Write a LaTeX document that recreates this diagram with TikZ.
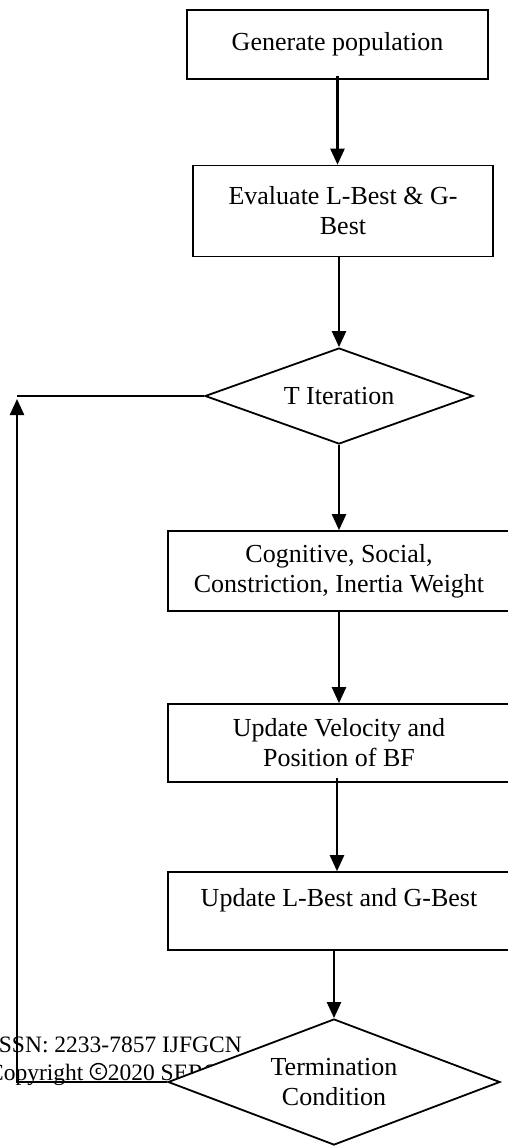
\documentclass[tikz,border=0pt]{standalone}
\usepackage{fontspec}
\setmainfont{Liberation Serif}
\usetikzlibrary{shapes.geometric,arrows.meta}
\begin{document}
\begin{tikzpicture}[x=1pt,y=-1pt,
  box/.style={draw,line width=1.6pt,rectangle,inner sep=0pt,align=center,
    font=\fontsize{26}{30}\selectfont},
  dia/.style={draw,line width=1.8pt,diamond,fill=white,inner sep=0pt,align=center,
    font=\fontsize{26}{30}\selectfont},
  conn/.style={line width=2.4pt,-{Triangle[width=14pt,length=16pt]}},
  plain/.style={line width=1.8pt},
  wm/.style={inner sep=0pt,font=\fontsize{23.5}{28}\selectfont},
  circmark/.style={circle,draw,line width=1.4pt,minimum size=16pt,inner sep=0pt,
    font=\sffamily\bfseries\fontsize{13}{13}\selectfont}]
\useasboundingbox (0,0) rectangle (508,1146);
\clip (0,0) rectangle (508,1146);
\fill[white] (0,0) rectangle (508,1146);

\node[box,minimum width=301pt,minimum height=69pt] (gen) at (337.5,44.5) {Generate population};
\node[box,minimum width=300pt,minimum height=91pt] (eval) at (343,211) {Evaluate L-Best \& G-\\Best};
\node[dia,aspect=2.79,minimum width=268pt,minimum height=96pt] (iter) at (339,396) {T Iteration};
\node[box,minimum width=342pt,minimum height=80pt] (cog) at (339,571) {Cognitive, Social,\\Constriction, Inertia Weight};
\node[box,minimum width=342pt,minimum height=78pt] (upd) at (339,743) {Update Velocity and\\Position of BF};
\node[box,minimum width=342pt,minimum height=78pt,text depth=28pt] (best) at (339,911) {Update L-Best and G-Best};

\node[wm,anchor=base east] (wm1) at (242,1052) {ISSN: 2233-7857 IJFGCN};
\node[wm,anchor=base west] (wm2a) at (-12,1080) {Copyright};
\node[circmark,anchor=west] (cc) at ([xshift=6pt,yshift=8.5pt]wm2a.base east) {c};
\node[wm,anchor=base west] (wm2b) at ([xshift=0.5pt]cc.east |- wm2a.base) {2020 SERSC};

\node[dia,aspect=2.63,minimum width=332pt,minimum height=126pt] (term) at (334,1082) {Termination\\Condition};

\coordinate (corner) at (17,396);

\draw[conn] ([yshift=4pt]gen.south) -- (gen.south |- eval.north);
\draw[conn] (iter.north |- eval.south) -- (iter.north);
\draw[conn] (iter.south) -- (iter.south |- cog.north);
\draw[conn] (cog.south) -- (upd.north);
\draw[conn] ([xshift=-2pt,yshift=5pt]upd.south) -- ([xshift=-2pt]upd.south |- best.north);
\draw[conn] ([xshift=-5pt]best.south) -- (term.north);
\draw[conn] (term.west) -| ([yshift=-3pt]corner);
\draw[plain] (corner) -- (iter.west);
\end{tikzpicture}
\end{document}
